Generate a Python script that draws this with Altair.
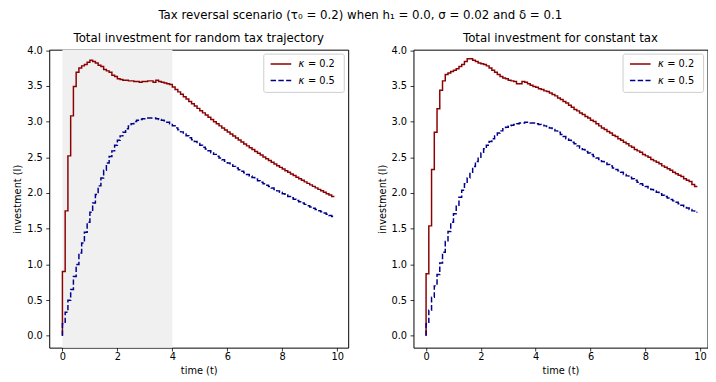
import altair as alt
import pandas as pd

# ---------------- data ----------------
time = [i / 10 for i in range(100)]

left_k02 = [
    0.00, 0.90, 1.75, 2.52, 3.08, 3.49, 3.69, 3.75, 3.78, 3.80,
    3.83, 3.86, 3.84, 3.82, 3.79, 3.77, 3.73, 3.71, 3.69, 3.65,
    3.63, 3.60, 3.59, 3.58, 3.58, 3.57, 3.57, 3.56, 3.56, 3.55,
    3.56, 3.56, 3.57, 3.57, 3.55, 3.58, 3.56, 3.55, 3.54, 3.53,
    3.520, 3.485, 3.450, 3.416, 3.382, 3.348, 3.315, 3.282, 3.249, 3.217,
    3.185, 3.153, 3.122, 3.091, 3.060, 3.030, 2.999, 2.970, 2.940, 2.911,
    2.882, 2.853, 2.825, 2.797, 2.769, 2.741, 2.714, 2.687, 2.660, 2.634,
    2.608, 2.582, 2.556, 2.531, 2.505, 2.480, 2.456, 2.431, 2.407, 2.383,
    2.359, 2.336, 2.313, 2.290, 2.267, 2.244, 2.222, 2.200, 2.178, 2.156,
    2.135, 2.114, 2.093, 2.072, 2.051, 2.031, 2.010, 1.990, 1.971, 1.951,
]

left_k05 = [
    0.00, 0.17, 0.33, 0.50, 0.65, 0.83, 1.00, 1.16, 1.30, 1.45,
    1.59, 1.73, 1.86, 1.98, 2.10, 2.21, 2.32, 2.42, 2.51, 2.59,
    2.67, 2.74, 2.80, 2.85, 2.90, 2.94, 2.97, 3.00, 3.02, 3.03,
    3.04, 3.05, 3.05, 3.05, 3.05, 3.04, 3.03, 3.02, 3.01, 2.99,
    2.970, 2.941, 2.912, 2.884, 2.856, 2.828, 2.801, 2.774, 2.747, 2.720,
    2.694, 2.668, 2.642, 2.616, 2.591, 2.565, 2.541, 2.516, 2.491, 2.467,
    2.443, 2.420, 2.396, 2.373, 2.350, 2.327, 2.304, 2.282, 2.260, 2.238,
    2.216, 2.195, 2.173, 2.152, 2.131, 2.110, 2.090, 2.070, 2.050, 2.030,
    2.010, 1.991, 1.971, 1.952, 1.933, 1.914, 1.896, 1.877, 1.859, 1.841,
    1.823, 1.805, 1.788, 1.770, 1.753, 1.736, 1.719, 1.703, 1.686, 1.670,
]

right_k02 = [
    0.00, 0.87, 1.54, 2.33, 2.85, 3.18, 3.44, 3.57, 3.66, 3.68,
    3.70, 3.72, 3.74, 3.77, 3.80, 3.84, 3.88, 3.88, 3.86, 3.84,
    3.82, 3.81, 3.80, 3.78, 3.75, 3.72, 3.69, 3.66, 3.63, 3.61,
    3.60, 3.58, 3.57, 3.56, 3.53, 3.53, 3.56, 3.55, 3.53, 3.51,
    3.49, 3.48, 3.46, 3.45, 3.43, 3.42, 3.40, 3.38, 3.36, 3.33,
    3.31, 3.28, 3.26, 3.23, 3.20, 3.17, 3.15, 3.12, 3.10, 3.07,
    3.05, 3.02, 3.00, 2.97, 2.94, 2.91, 2.89, 2.86, 2.84, 2.81,
    2.79, 2.76, 2.74, 2.71, 2.69, 2.66, 2.64, 2.61, 2.59, 2.57,
    2.54, 2.52, 2.50, 2.47, 2.45, 2.43, 2.41, 2.38, 2.36, 2.34,
    2.32, 2.29, 2.27, 2.25, 2.23, 2.20, 2.18, 2.16, 2.12, 2.09,
]

right_k05 = [
    0.00, 0.17, 0.36, 0.54, 0.70, 0.86, 1.02, 1.17, 1.32, 1.46,
    1.59, 1.71, 1.83, 1.94, 2.04, 2.13, 2.21, 2.29, 2.37, 2.44,
    2.50, 2.56, 2.62, 2.67, 2.72, 2.76, 2.80, 2.84, 2.87, 2.90,
    2.92, 2.94, 2.95, 2.96, 2.97, 2.98, 2.98, 2.99, 2.99, 2.98,
    2.98, 2.97, 2.96, 2.95, 2.94, 2.93, 2.91, 2.89, 2.87, 2.85,
    2.82, 2.79, 2.76, 2.74, 2.71, 2.69, 2.66, 2.63, 2.61, 2.58,
    2.56, 2.54, 2.51, 2.49, 2.47, 2.44, 2.42, 2.40, 2.38, 2.35,
    2.33, 2.31, 2.29, 2.26, 2.24, 2.22, 2.20, 2.18, 2.15, 2.13,
    2.11, 2.09, 2.07, 2.05, 2.03, 2.01, 1.99, 1.97, 1.95, 1.93,
    1.91, 1.89, 1.87, 1.85, 1.83, 1.81, 1.79, 1.77, 1.75, 1.73,
]

kappas = ["0.2", "0.5"]
x_ticks = [0, 2, 4, 6, 8, 10]
y_ticks = [0.0, 0.5, 1.0, 1.5, 2.0, 2.5, 3.0, 3.5, 4.0]
shade_span = [0, 4]

suptitle = "Tax reversal scenario (τ₀ = 0.2) when h₁ = 0.0, σ = 0.02 and δ = 0.1"
titles = ["Total investment for random tax trajectory", "Total investment for constant tax"]

RED = "#8b0000"
BLUE = "#00008b"
FONT = "DejaVu Sans"
H = 303.5
Y_DOMAIN = [-0.165, 4.007]


def long_df(a, b):
    return pd.DataFrame({
        "t": time + time,
        "v": a + b,
        "k": [kappas[0]] * len(a) + [kappas[1]] * len(b),
    })


def panel(df, title, width, x_domain, shade):
    xs = alt.Scale(domain=x_domain, nice=False, zero=False)
    xa = alt.Axis(values=x_ticks, format="d", title="time (t)", labelPadding=0.5, titlePadding=4)
    ys = alt.Scale(domain=Y_DOMAIN, nice=False, zero=False)
    ya = alt.Axis(values=y_ticks, format=".1f", title="investment (I)")

    layers = []
    if shade:
        sdf = pd.DataFrame({"s0": [shade_span[0]], "s1": [shade_span[1]]})
        layers.append(
            alt.Chart(sdf).mark_rect(color="#f0f0f0").encode(
                x=alt.X("s0:Q", scale=xs, axis=xa),
                x2="s1:Q",
                y=alt.value(0),
                y2=alt.value(H),
            )
        )
    lines = alt.Chart(df).mark_line(interpolate="step-before", strokeWidth=1.5).encode(
        x=alt.X("t:Q", scale=xs, axis=xa),
        y=alt.Y("v:Q", scale=ys, axis=ya),
        color=alt.Color("k:N", scale=alt.Scale(domain=kappas, range=[RED, BLUE]), legend=None),
        strokeDash=alt.StrokeDash("k:N", scale=alt.Scale(domain=kappas, range=[[1, 0], [5.5, 2.4]]), legend=None),
        detail="k:N",
    )
    layers.append(lines)

    one = pd.DataFrame({"a": [0]})
    bx0 = width - 86
    layers.append(
        alt.Chart(one).mark_rect(fill="white", fillOpacity=0.8, stroke="#cccccc", strokeWidth=1, cornerRadius=2).encode(
            x=alt.value(bx0), x2=alt.value(bx0 + 82), y=alt.value(4.5), y2=alt.value(43.5)
        )
    )
    for i, (kv, col, dash) in enumerate([(kappas[0], RED, [1, 0]), (kappas[1], BLUE, [5.5, 2.4])]):
        yy = 14.5 + 17 * i
        layers.append(
            alt.Chart(one).mark_rule(color=col, strokeWidth=1.5, strokeDash=dash).encode(
                x=alt.value(bx0 + 7), x2=alt.value(bx0 + 28), y=alt.value(yy)
            )
        )
        layers.append(
            alt.Chart(one).mark_text(font=FONT, fontSize=10, fontStyle="italic", align="left", baseline="middle", color="black").encode(
                x=alt.value(bx0 + 35.5), y=alt.value(yy), text=alt.value("κ")
            )
        )
        layers.append(
            alt.Chart(one).mark_text(font=FONT, fontSize=10, align="left", baseline="middle", color="black").encode(
                x=alt.value(bx0 + 45), y=alt.value(yy), text=alt.value("= " + kv)
            )
        )

    return alt.layer(*layers).properties(
        width=width,
        height=H,
        title=alt.TitleParams(title, fontSize=12, font=FONT, fontWeight="normal", offset=0.5, frame="group", color="black"),
    )


left = panel(long_df(left_k02, left_k05), titles[0], 304.5, [-0.48, 10.4], True)
right = panel(long_df(right_k02, right_k05), titles[1], 299.5, [-0.46, 10.27], False)

chart = alt.hconcat(left, right, spacing=28).properties(
    title=alt.TitleParams(suptitle, fontSize=12, font=FONT, fontWeight="normal", anchor="middle", offset=10, color="black"),
    padding={"left": 4, "top": -3, "right": 0, "bottom": 0},
).configure_view(
    stroke="black", strokeWidth=1
).configure_axis(
    labelFont=FONT, titleFont=FONT, labelFontSize=10, titleFontSize=10,
    titleFontWeight="normal", labelColor="black", titleColor="black",
    tickColor="black", tickSize=3.5, tickWidth=0.8, labelPadding=3.5,
    titlePadding=4, grid=False, domain=False,
).configure_concat(spacing=28)

chart.save("out.html", embed_options={"renderer": "svg", "actions": False})
